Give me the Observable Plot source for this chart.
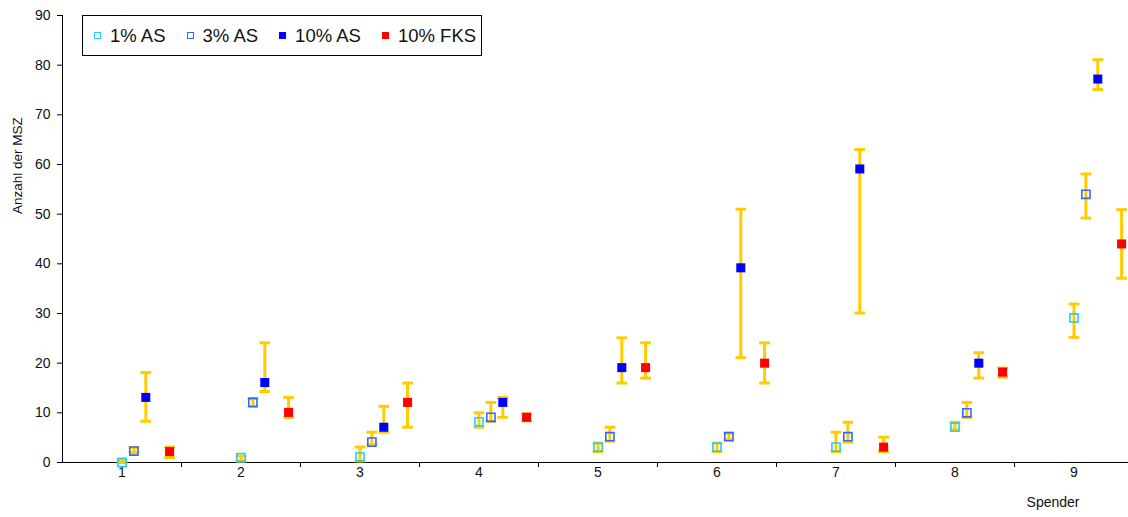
<!DOCTYPE html>
<html>
<head>
<meta charset="utf-8">
<script src="https://cdn.jsdelivr.net/npm/d3@7"></script>
<script src="https://cdn.jsdelivr.net/npm/@observablehq/plot@0.6"></script>
<style>
  html, body { margin: 0; padding: 0; background: #fff; }
  #wrap { position: relative; width: 1128px; height: 517px; overflow: hidden; font-family: "Liberation Sans", Arial, sans-serif; }
  #legend { position: absolute; left: 82px; top: 15px; width: 400px; height: 41px; border: 1px solid #000; background: #fff;
            display: flex; flex-wrap: nowrap; align-items: center; padding-left: 11px; box-sizing: border-box; font-size: 18.5px; color: #111; white-space: nowrap; }
  .item { display: flex; flex: 0 0 auto; align-items: center; margin-right: 21px; white-space: nowrap; }
  .mk { flex: 0 0 auto; width: 7px; height: 7px; box-sizing: border-box; margin-right: 9px; }
</style>
</head>
<body>
<div id="wrap"><div id="chart"></div><div id="legend"></div></div>
<script>
// ---- data ----
const categories = [1, 2, 3, 4, 5, 6, 7, 8, 9];
const seriesNames = ["1% AS", "3% AS", "10% AS", "10% FKS"];

const as1   = [0.0, 1.0, 1.1, 8.2, 3.1, 3.1, 3.1, 7.1, 29.1];
const as1Lo = [0.0, 0.3, 0.3, 7.1, 2.2, 2.2, 2.2, 6.6, 25.2];
const as1Hi = [0.4, 1.3, 3.1, 10.0, 3.9, 3.9, 6.1, 8.1, 31.9];

const as3   = [2.3, 12.1, 4.1, 9.1, 5.2, 5.2, 5.2, 10.0, 54.0];
const as3Lo = [2.0, 11.3, 3.6, 8.3, 4.3, 4.6, 4.1, 9.1, 49.2];
const as3Hi = [3.0, 12.9, 6.1, 12.1, 7.1, 5.9, 8.1, 12.1, 58.1];

const as10   = [13.1, 16.1, 7.1, 12.1, 19.1, 39.2, 59.1, 20.0, 77.2];
const as10Lo = [8.3, 14.3, 6.1, 9.1, 16.0, 21.1, 30.1, 17.0, 75.1];
const as10Hi = [18.1, 24.1, 11.3, 13.1, 25.1, 51.0, 63.0, 22.1, 81.1];

const fks   = [2.2, 10.1, 12.1, 9.1, 19.1, 20.0, 3.1, 18.2, 44.0];
const fksLo = [1.0, 9.1, 7.1, 8.4, 17.0, 16.0, 2.2, 17.2, 37.1];
const fksHi = [3.1, 13.1, 16.0, 9.8, 24.1, 24.1, 5.1, 19.0, 50.9];

const yTicks = [0, 10, 20, 30, 40, 50, 60, 70, 80, 90];
const yLabel = "Anzahl der MSZ";
const xLabel = "Spender";

// ---- styling ----
const offsets = [0, 0.1, 0.2, 0.4];
const styles = [
  {fill: "none", stroke: "#22CCFF"},
  {fill: "none", stroke: "#3366FF"},
  {fill: "#0000FF", stroke: "none"},
  {fill: "#FF0000", stroke: "none"}
];
const errColor = "#FFCC00";

const values = [[as1, as1Lo, as1Hi], [as3, as3Lo, as3Hi], [as10, as10Lo, as10Hi], [fks, fksLo, fksHi]];
const rows = [];
values.forEach(([v, lo, hi], s) => {
  categories.forEach((c, i) => {
    rows.push({series: seriesNames[s], s, x: c + offsets[s], v: v[i], lo: lo[i], hi: hi[i]});
  });
});
const capHalf = 0.045;

const marks = [
  Plot.ruleY([0], {stroke: "#000", strokeWidth: 1}),
  Plot.ruleX([0.5], {y1: 0, y2: 90, stroke: "#000", strokeWidth: 1}),
  Plot.axisY({ticks: yTicks, tickSize: 5, tickPadding: 7, fontSize: 14, label: null, stroke: "#000", fill: "#111"}),
  Plot.axisX({ticks: categories.slice(0, -1).map(c => c + 0.5), tickSize: 5, tickFormat: () => "", label: null, stroke: "#000"}),
  Plot.axisX({ticks: categories, tickSize: 0, tickPadding: 5, fontSize: 14, label: null, fill: "#111"}),
  Plot.text([yLabel], {frameAnchor: "left", rotate: -90, dx: -45, dy: -25, fontSize: 13.5, fill: "#111"}),
  Plot.text([xLabel], {frameAnchor: "bottom-right", dx: -49, dy: 44, fontSize: 14, fill: "#111"}),
  // error bars
  Plot.ruleX(rows, {x: "x", y1: "lo", y2: "hi", stroke: errColor, strokeWidth: 3}),
  Plot.link(rows, {x1: d => d.x - capHalf, x2: d => d.x + capHalf, y1: "hi", y2: "hi", stroke: errColor, strokeWidth: 3}),
  Plot.link(rows, {x1: d => d.x - capHalf, x2: d => d.x + capHalf, y1: "lo", y2: "lo", stroke: errColor, strokeWidth: 3}),
  // markers
  ...styles.map((st, s) => Plot.dot(rows.filter(d => d.s === s), {
    x: "x", y: "v", symbol: "square", r: st.fill === "none" ? 4.6 : 5.1,
    fill: st.fill, stroke: st.stroke, strokeWidth: 1.6
  }))
];

const chart = Plot.plot({
  width: 1128,
  height: 517,
  marginLeft: 62,
  marginRight: 0,
  marginTop: 15,
  marginBottom: 55,
  style: {fontFamily: "'Liberation Sans', Arial, sans-serif", background: "#fff", overflow: "visible"},
  x: {type: "linear", domain: [0.5, 9.5], range: [62, 1133], axis: null},
  y: {domain: [0, 90], axis: null},
  marks
});
document.getElementById("chart").appendChild(chart);

// legend
const legend = document.getElementById("legend");
seriesNames.forEach((name, s) => {
  const st = styles[s];
  const item = document.createElement("div");
  item.className = "item";
  const mk = document.createElement("div");
  mk.className = "mk";
  if (st.fill === "none") { mk.style.border = "1.5px solid " + st.stroke; }
  else { mk.style.background = st.fill; }
  const t = document.createElement("span");
  t.textContent = name;
  item.appendChild(mk); item.appendChild(t);
  legend.appendChild(item);
});
</script>
</body>
</html>
